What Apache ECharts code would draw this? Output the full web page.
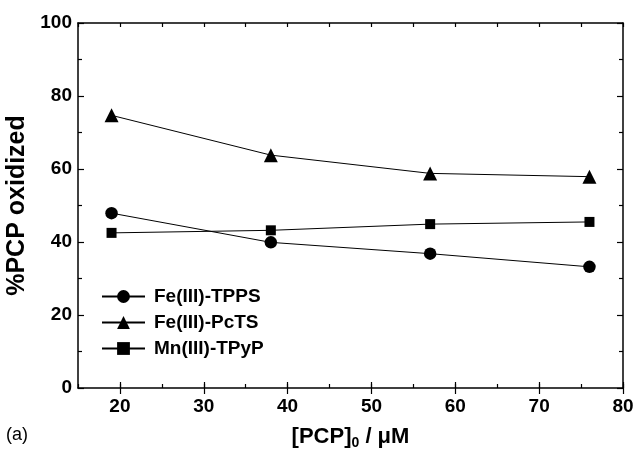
<!DOCTYPE html>
<html>
<head>
<meta charset="utf-8">
<script src="https://cdn.jsdelivr.net/npm/echarts@6/dist/echarts.min.js"></script>
<style>
  html, body { margin: 0; padding: 0; background: #fff; }
  #chart { width: 635px; height: 449px; }
</style>
</head>
<body>
<div id="chart"></div>
<script>
// Initial PCP concentration (µM) and percentage of PCP oxidized per catalyst
var pcpConc = [19, 38, 57, 76];
var feTPPS = [47.9, 39.9, 36.8, 33.2];
var fePcTS = [74.7, 63.8, 58.8, 57.9];
var mnTPyP = [42.5, 43.2, 44.9, 45.5];
var seriesNames = ['Fe(III)-TPPS', 'Fe(III)-PcTS', 'Mn(III)-TPyP'];
var xMajorTicks = [20, 30, 40, 50, 60, 70, 80];
var yTicks = [0, 20, 40, 60, 80, 100];

var FONT = 'Liberation Sans, Arial, Helvetica, sans-serif';

function pairs(xs, ys) {
  return xs.map(function (x, i) { return [x, ys[i]]; });
}

var chart = echarts.init(document.getElementById('chart'), null, { renderer: 'canvas' });

var axisLine = { show: true, onZero: false, lineStyle: { color: '#000', width: 1.5 } };
var tickLabel = { color: '#000', fontSize: 19, fontWeight: 'bold', fontFamily: FONT };

function xAxisBase(pos, withLabels, major) {
  return {
    type: 'value', position: pos, min: 15, max: 80, interval: 5,
    axisLine: major ? { show: false } : axisLine,
    splitLine: { show: false },
    axisTick: major
      ? { show: true, inside: true, length: 6, customValues: xMajorTicks, lineStyle: { color: '#000', width: 1.2 } }
      : { show: true, inside: true, length: 4, lineStyle: { color: '#000', width: 1.2 } },
    axisLabel: withLabels
      ? Object.assign({ show: true, margin: 9, customValues: xMajorTicks }, tickLabel)
      : { show: false }
  };
}

function yAxisBase(pos, withLabels) {
  return {
    type: 'value', position: pos, min: 0, max: 100, interval: 20,
    axisLine: axisLine,
    splitLine: { show: false },
    axisTick: { show: true, inside: true, length: 6, lineStyle: { color: '#000', width: 1.2 } },
    minorTick: { show: true, splitNumber: 2, length: 4, lineStyle: { color: '#000', width: 1.2 } },
    axisLabel: withLabels ? Object.assign({ show: true, margin: 6 }, tickLabel) : { show: false }
  };
}

var xBottom = xAxisBase('bottom', true, false);
xBottom.name = '{b|[PCP]}{s|0}{b| / μM}';
xBottom.nameLocation = 'middle';
xBottom.nameGap = 35;
xBottom.nameTextStyle = {
  rich: {
    b: { fontSize: 22, fontWeight: 'bold', color: '#000', fontFamily: FONT },
    s: { fontSize: 14, fontWeight: 'bold', color: '#000', fontFamily: FONT, padding: [13, 0, 0, 0] }
  }
};

var yLeft = yAxisBase('left', true);
yLeft.name = '%PCP oxidized';
yLeft.nameLocation = 'middle';
yLeft.nameGap = 36;
yLeft.nameTextStyle = { fontSize: 25, fontWeight: 'bold', color: '#000', fontFamily: FONT };

var lineStyle = { color: '#000', width: 1 };

chart.setOption({
  animation: false,
  backgroundColor: '#fff',
  grid: { left: 78, right: 12, top: 23, bottom: 61, outerBoundsMode: 'none', containLabel: false },
  xAxis: [
    xBottom,
    xAxisBase('top', false, false),
    xAxisBase('bottom', false, true),
    xAxisBase('top', false, true)
  ],
  yAxis: [yLeft, yAxisBase('right', false)],
  legend: {
    orient: 'vertical', left: 101, top: 286, padding: 0,
    itemWidth: 43, itemHeight: 16, itemGap: 5,
    data: seriesNames,
    textStyle: { color: '#000', fontSize: 19, fontWeight: 'bold', fontFamily: FONT, lineHeight: 21, padding: [0, 0, 0, 4] }
  },
  graphic: [{
    type: 'text', left: 6, top: 426,
    style: { text: '(a)', fontSize: 18, fill: '#000', fontFamily: FONT }
  }],
  series: [
    { name: seriesNames[0], type: 'line', data: pairs(pcpConc, feTPPS), symbol: 'circle', symbolSize: 12.5,
      lineStyle: lineStyle, itemStyle: { color: '#000' } },
    { name: seriesNames[1], type: 'line', data: pairs(pcpConc, fePcTS), symbol: 'triangle', symbolSize: 14,
      lineStyle: lineStyle, itemStyle: { color: '#000' } },
    { name: seriesNames[2], type: 'line', data: pairs(pcpConc, mnTPyP), symbol: 'rect', symbolSize: 10,
      lineStyle: lineStyle, itemStyle: { color: '#000' } }
  ]
});
</script>
</body>
</html>
